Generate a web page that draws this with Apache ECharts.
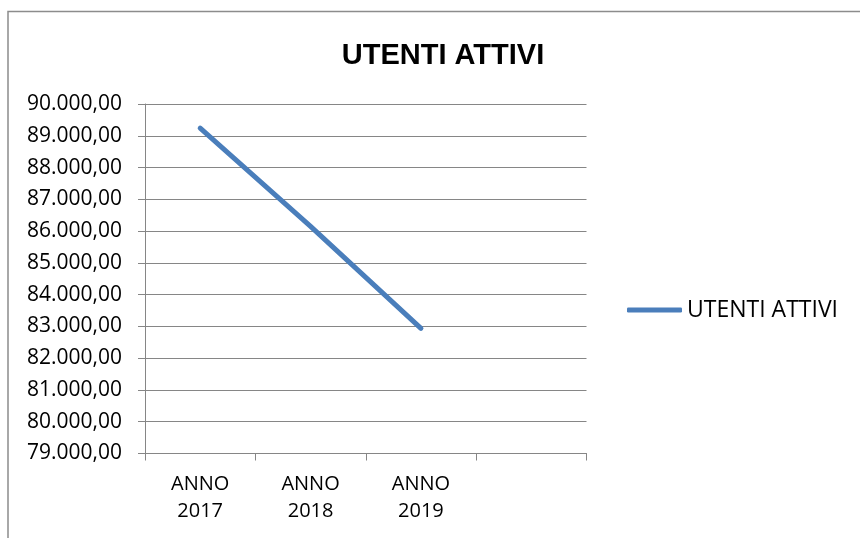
<!DOCTYPE html>
<html>
<head>
<meta charset="utf-8">
<script src="https://cdn.jsdelivr.net/npm/echarts@6/dist/echarts.min.js"></script>
<style>
  html, body { margin: 0; padding: 0; background: #fff; }
  #chart { width: 860px; height: 538px; }
</style>
</head>
<body>
<div id="chart"></div>
<script>
const categories = ['ANNO\n2017', 'ANNO\n2018', 'ANNO\n2019', ''];
const utentiAttivi = [89240, 86150, 82940, null];
const seriesName = 'UTENTI ATTIVI';

// 90000 -> "90.000,00"
const formatIt = (v) => {
  const int = Math.round(v).toString().replace(/\B(?=(\d{3})+(?!\d))/g, '.');
  return int + ',00';
};

const chart = echarts.init(document.getElementById('chart'));

const option = {
  animation: false,
  backgroundColor: '#fff',
  title: {
    text: 'UTENTI ATTIVI',
    left: 438,
    top: 36,
    textAlign: 'center',
    textStyle: {
      fontFamily: 'Liberation Sans',
      fontWeight: 'bold',
      fontSize: 29,
      color: '#000'
    }
  },
  graphic: [
    {
      type: 'rect',
      shape: { x: 8, y: 11.5, width: 1000, height: 700 },
      style: { fill: 'none', stroke: '#8c8c8c', lineWidth: 1.5 },
      silent: true
    }
  ],
  legend: {
    data: [{ name: seriesName, icon: 'roundRect' }],
    left: 622,
    top: 293.5,
    itemWidth: 55,
    itemHeight: 5,
    textStyle: { fontFamily: 'Open Sans', fontSize: 23, color: '#000' }
  },
  grid: {
    left: 145,
    right: 273.5,
    top: 104,
    bottom: 84.5
  },
  xAxis: {
    type: 'category',
    data: categories,
    boundaryGap: true,
    axisLine: { lineStyle: { color: '#868686', width: 1 } },
    axisTick: { show: true, length: 7, lineStyle: { color: '#868686' } },
    axisLabel: {
      margin: 17,
      fontFamily: 'Open Sans',
      fontSize: 20,
      lineHeight: 27,
      color: '#000'
    }
  },
  yAxis: {
    type: 'value',
    min: 79000,
    max: 90000,
    interval: 1000,
    axisLine: { show: true, lineStyle: { color: '#868686', width: 1 } },
    axisTick: { show: true, length: 7, lineStyle: { color: '#868686' } },
    splitLine: { lineStyle: { color: '#868686', width: 1 } },
    axisLabel: {
      margin: 23,
      formatter: formatIt,
      fontFamily: 'Open Sans',
      fontSize: 21,
      color: '#000'
    }
  },
  series: [
    {
      name: seriesName,
      type: 'line',
      data: utentiAttivi,
      symbol: 'none',
      color: '#4a7ebb',
      lineStyle: { width: 5, color: '#4a7ebb', cap: 'round' }
    }
  ]
};

chart.setOption(option);
</script>
</body>
</html>
